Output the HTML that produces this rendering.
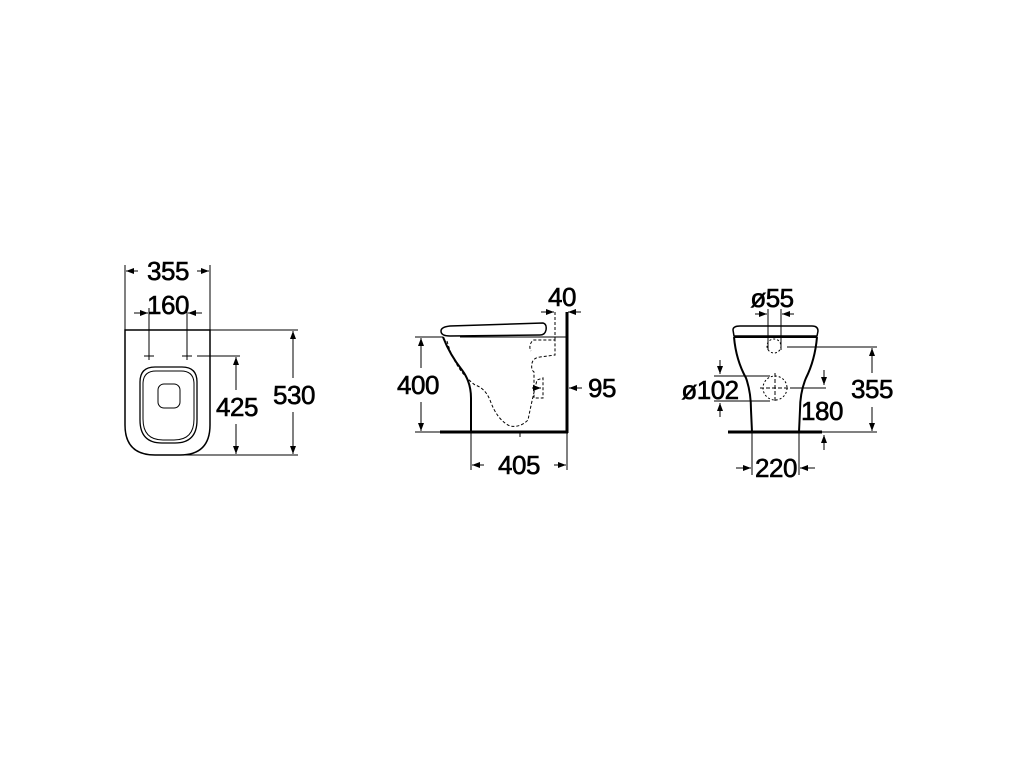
<!DOCTYPE html>
<html><head><style>
html,body{margin:0;padding:0;background:#fff;}
svg{display:block;}
text{font-family:"Liberation Sans",sans-serif;font-size:26px;fill:#000;stroke:#000;stroke-width:0.6px;text-anchor:middle;dominant-baseline:central;letter-spacing:-0.5px;}
</style></head><body>
<svg width="1024" height="768" viewBox="0 0 1024 768" xmlns="http://www.w3.org/2000/svg">
<defs>
<marker id="a" markerWidth="8" markerHeight="6" refX="8" refY="3" orient="auto" markerUnits="userSpaceOnUse"><path d="M0,0 L8,3 L0,6 Z" fill="#000"/></marker>
</defs>
<g stroke="#000" fill="none" stroke-width="1">
<!-- VIEW 1 -->
<path d="M125,330 H210 V425 Q210,455 180,455 H155 Q125,455 125,425 Z" stroke-width="1.5"/>
<path d="M140,382 Q140,367 155,367 H182 Q197,367 197,382 V420 Q197,443 175,443 H162 Q140,443 140,420 Z" stroke-width="1.3"/>
<path d="M143,384 Q143,371 156,371 H181 Q194,371 194,384 V419 Q194,440 174,440 H163 Q143,440 143,419 Z"/>
<rect x="158" y="384" width="22" height="24" rx="6"/>
<line x1="125" y1="265" x2="125" y2="330"/><line x1="210" y1="265" x2="210" y2="330"/>
<line x1="138" y1="271" x2="126" y2="271" marker-end="url(#a)"/><line x1="197" y1="271" x2="209" y2="271" marker-end="url(#a)"/>
<line x1="149" y1="308" x2="149" y2="360"/><line x1="187" y1="308" x2="187" y2="360"/>
<line x1="134" y1="313" x2="148" y2="313" marker-end="url(#a)"/><line x1="202" y1="313" x2="188" y2="313" marker-end="url(#a)"/>
<line x1="144" y1="356" x2="154" y2="356"/><line x1="182" y1="356" x2="192" y2="356"/>
<line x1="197" y1="356" x2="240" y2="356"/>
<line x1="236" y1="390" x2="236" y2="357" marker-end="url(#a)"/><line x1="236" y1="424" x2="236" y2="454" marker-end="url(#a)"/>
<line x1="210" y1="330" x2="298" y2="330"/><line x1="170" y1="455" x2="298" y2="455"/>
<line x1="293" y1="378" x2="293" y2="331" marker-end="url(#a)"/><line x1="293" y1="412" x2="293" y2="454" marker-end="url(#a)"/>

<!-- VIEW 2 -->
<line x1="567" y1="312" x2="567" y2="433" stroke-width="3"/>
<line x1="440" y1="432" x2="568" y2="432" stroke-width="3"/>
<path d="M441,331 Q441,327 450,326 L543,323 Q547,324 546,330 Q545,335 540,335 L450,336 Q441,336 441,331 Z" stroke-width="1.5"/>
<path d="M443,337 Q450,355 462,370 Q471,382 471,398 V432" stroke-width="2"/>
<line x1="460" y1="337" x2="567" y2="337"/>
<path d="M447,341 Q455,370 475,385 Q485,388 490,400 Q497,420 510,426 Q520,428 528,420 Q532,400 537,380 L543,378 V398 L534,398 V372 L532,370 Q530,358 540,357 L555,355 V340 L533,340 Q528,346 531,351" stroke-dasharray="3,2"/>
<line x1="555" y1="312" x2="555" y2="340" stroke-dasharray="3,2"/>
<line x1="541" y1="312" x2="554" y2="312" marker-end="url(#a)"/><line x1="581" y1="312" x2="568" y2="312" marker-end="url(#a)"/>
<line x1="532" y1="388" x2="541" y2="388" marker-end="url(#a)"/>
<line x1="582" y1="388" x2="569" y2="388" marker-end="url(#a)"/>
<line x1="415" y1="337" x2="443" y2="337"/><line x1="415" y1="432" x2="440" y2="432"/>
<line x1="421" y1="368" x2="421" y2="338" marker-end="url(#a)"/><line x1="421" y1="402" x2="421" y2="431" marker-end="url(#a)"/>
<line x1="471" y1="432" x2="471" y2="470"/><line x1="567" y1="432" x2="567" y2="470"/>
<line x1="484" y1="465" x2="472" y2="465" marker-end="url(#a)"/><line x1="554" y1="465" x2="566" y2="465" marker-end="url(#a)"/>
<line x1="520" y1="432" x2="520" y2="437"/>

<!-- VIEW 3 -->
<path d="M733,330 Q733,326 740,326 L812,326 Q818,326 818,331 L817,336 L734,336 Z" stroke-width="1.5"/>
<line x1="734" y1="337" x2="817" y2="337" stroke-width="2"/>
<path d="M734,337 Q736,360 746,378 Q751,392 751,410 L752,432" stroke-width="2"/>
<path d="M817,337 Q815,360 806,378 Q800,392 800,410 L799,432" stroke-width="2"/>
<line x1="728" y1="432" x2="822" y2="432" stroke-width="3"/>
<circle cx="774" cy="346" r="7" stroke-dasharray="2,2"/>
<circle cx="775" cy="388" r="12" stroke-dasharray="2,2"/>
<line x1="775" y1="373" x2="775" y2="403" stroke-dasharray="4,2"/>
<line x1="760" y1="388" x2="790" y2="388" stroke-dasharray="4,2"/>
<line x1="768" y1="309" x2="768" y2="350"/><line x1="781" y1="309" x2="781" y2="350"/>
<line x1="755" y1="314" x2="767" y2="314" marker-end="url(#a)"/><line x1="794" y1="314" x2="782" y2="314" marker-end="url(#a)"/>
<line x1="787" y1="347" x2="877" y2="347"/><line x1="822" y1="432" x2="877" y2="432"/>
<line x1="872" y1="373" x2="872" y2="348" marker-end="url(#a)"/><line x1="872" y1="407" x2="872" y2="431" marker-end="url(#a)"/>
<line x1="790" y1="388" x2="826" y2="388"/>
<line x1="824" y1="370" x2="824" y2="385" marker-end="url(#a)"/>
<line x1="824" y1="450" x2="824" y2="435" marker-end="url(#a)"/>
<line x1="714" y1="376" x2="770" y2="376"/><line x1="714" y1="401" x2="770" y2="401"/>
<line x1="720" y1="360" x2="720" y2="374" marker-end="url(#a)"/><line x1="720" y1="417" x2="720" y2="403" marker-end="url(#a)"/>
<line x1="752" y1="432" x2="752" y2="475"/><line x1="799" y1="432" x2="799" y2="475"/>
<line x1="736" y1="468" x2="751" y2="468" marker-end="url(#a)"/><line x1="815" y1="468" x2="800" y2="468" marker-end="url(#a)"/>
</g>
<text x="168" y="271">355</text>
<text x="168" y="305">160</text>
<text x="237" y="407">425</text>
<text x="294" y="395">530</text>
<text x="562" y="297">40</text>
<text x="418" y="385">400</text>
<text x="602" y="388">95</text>
<text x="519" y="465">405</text>
<text x="772" y="298">ø55</text>
<text x="710" y="390">ø102</text>
<text x="872" y="389">355</text>
<text x="822" y="411">180</text>
<text x="776" y="468">220</text>
</svg>
</body></html>
